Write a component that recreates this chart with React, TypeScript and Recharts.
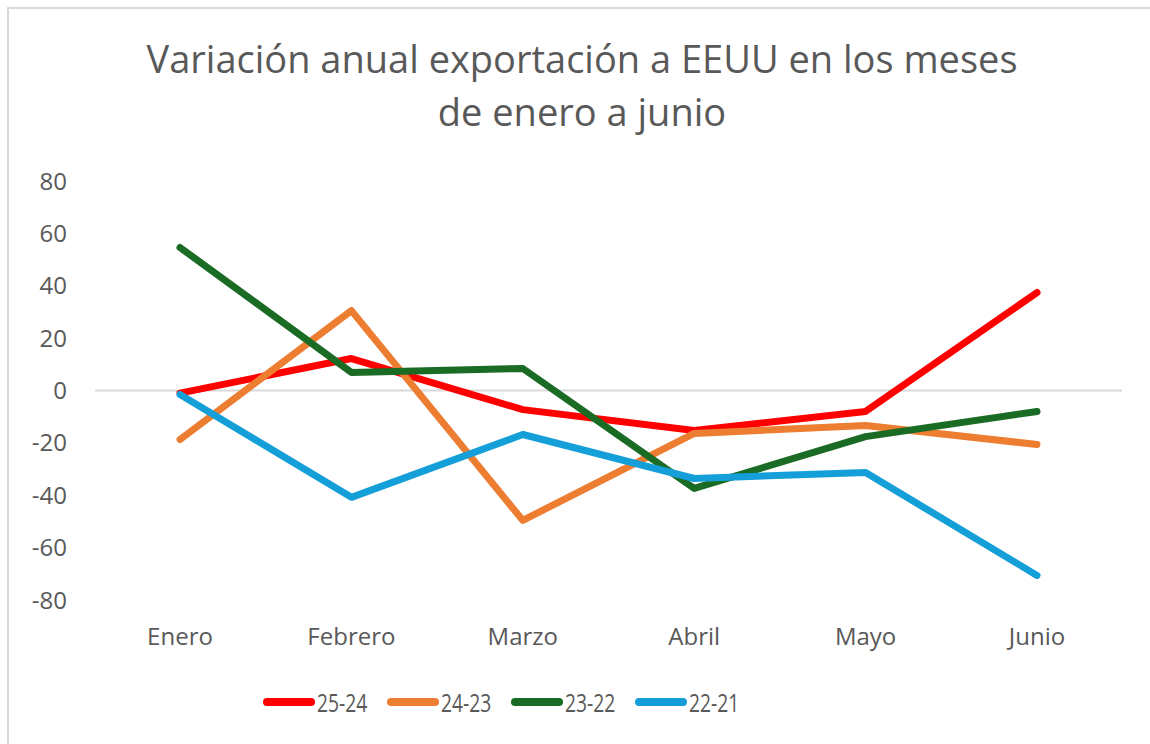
import React from "react";
import { LineChart, Line, XAxis, YAxis, ReferenceLine } from "recharts";

const months = ["Enero", "Febrero", "Marzo", "Abril", "Mayo", "Junio"];
const s2524 = [-1, 12.2, -7.3, -15.3, -8, 37.4];
const s2423 = [-18.7, 30.5, -49.6, -16.4, -13.4, -20.6];
const s2322 = [54.6, 6.9, 8.4, -37.4, -17.6, -8];
const s2221 = [-1.5, -40.8, -16.8, -33.6, -31.3, -70.6];
const yTicks = [-80, -60, -40, -20, 0, 20, 40, 60, 80];

const series = [
  { key: "25-24", color: "#ff0000", values: s2524 },
  { key: "24-23", color: "#ed7d31", values: s2423 },
  { key: "23-22", color: "#1a6b24", values: s2322 },
  { key: "22-21", color: "#149fd8", values: s2221 },
];

const rows = months.map((m, i) => {
  const r: Record<string, string | number> = { month: m };
  series.forEach((s) => (r[s.key] = s.values[i]));
  return r;
});

const FONT = "'Open Sans', sans-serif";
const TEXT = "#595959";

export default function App() {
  return (
    <div
      style={{
        position: "fixed",
        left: 0,
        top: 0,
        width: 1150,
        height: 744,
        background: "#fff",
        fontFamily: FONT,
        overflow: "hidden",
      }}
    >
      <div
        style={{
          position: "absolute",
          left: 7,
          top: 7,
          width: 1160,
          height: 760,
          borderLeft: "2px solid #d9d9d9",
          borderTop: "2px solid #d9d9d9",
        }}
      />
      <div
        style={{
          position: "absolute",
          left: 0,
          top: 32,
          width: 1164,
          textAlign: "center",
          fontSize: 38,
          lineHeight: "53px",
          color: TEXT,
        }}
      >
        Variación anual exportación a EEUU en los meses
        <br />
        de enero a junio
      </div>
      <LineChart
        width={1150}
        height={744}
        data={rows}
        margin={{ top: 181, right: 28, bottom: 104, left: 35 }}
      >
        <XAxis
          dataKey="month"
          axisLine={false}
          tickLine={false}
          tickSize={0}
          tickMargin={28}
          height={40}
          padding={{ left: 85, right: 85 }}
          tick={{ fill: TEXT, fontSize: 24, fontFamily: FONT }}
        />
        <YAxis
          domain={[-80, 80]}
          ticks={yTicks}
          width={60}
          axisLine={false}
          tickLine={false}
          tickSize={0}
          tickMargin={28}
          tick={{ fill: TEXT, fontSize: 24, fontFamily: FONT }}
        />
        <ReferenceLine y={0} stroke="#d9d9d9" strokeWidth={2} />
        {series.map((s) => (
          <Line
            key={s.key}
            dataKey={s.key}
            stroke={s.color}
            strokeWidth={7}
            strokeLinecap="round"
            strokeLinejoin="round"
            dot={false}
            type="linear"
            isAnimationActive={false}
          />
        ))}
      </LineChart>
      <div
        style={{
          position: "absolute",
          left: 263,
          top: 684,
          display: "flex",
          alignItems: "center",
          fontSize: 26,
          color: TEXT,
        }}
      >
        {series.map((s) => (
          <div key={s.key} style={{ display: "flex", alignItems: "center", width: 124 }}>
            <div style={{ width: 52, height: 8, borderRadius: 4, background: s.color }} />
            <span
              style={{
                display: "inline-block",
                marginLeft: 2,
                transform: "scaleX(0.74)",
                transformOrigin: "left center",
              }}
            >
              {s.key}
            </span>
          </div>
        ))}
      </div>
    </div>
  );
}
